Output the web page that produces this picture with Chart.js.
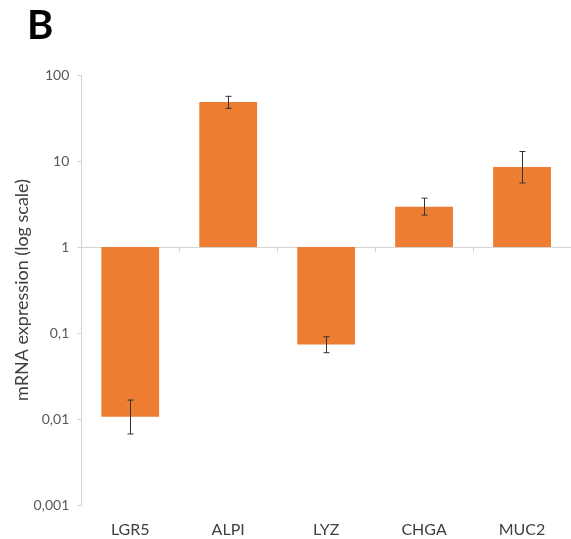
<!DOCTYPE html>
<html>
<head>
<meta charset="utf-8">
<script src="https://cdn.jsdelivr.net/npm/chart.js@4/dist/chart.umd.min.js"></script>
<style>
  html, body { margin: 0; padding: 0; background: #fff; }
  #wrap { position: relative; width: 571px; height: 539px; }
  #panel { position: absolute; left: 27px; top: 0px; font: bold 40px Lato, "Liberation Sans", sans-serif; color: #000; }
</style>
</head>
<body>
<div id="wrap">
  <canvas id="chart" width="571" height="539"></canvas>
  <div id="panel">B</div>
</div>
<script>
const genes = ['LGR5', 'ALPI', 'LYZ', 'CHGA', 'MUC2'];
const expression = [0.0106, 48.5, 0.0736, 2.93, 8.5];
const errorLow = [0.0067, 41, 0.059, 2.35, 5.55];
const errorHigh = [0.0166, 56.5, 0.0905, 3.7, 12.9];
const yTicks = [0.001, 0.01, 0.1, 1, 10, 100];

// error bars plus the little category ticks hanging under the baseline (value 1)
const errorBars = {
    id: 'errorBars',
    afterDatasetsDraw(chart) {
        const ctx = chart.ctx;
        const x = chart.scales.x;
        const y = chart.scales.y;
        const meta = chart.getDatasetMeta(0);
        const base = Math.round(y.getPixelForValue(1));
        ctx.save();
        ctx.strokeStyle = '#d4d4d4';
        ctx.lineWidth = 1;
        for (let i = 1; i < genes.length; i++) {
            const bx = Math.round((x.getPixelForValue(i - 1) + x.getPixelForValue(i)) / 2) + 0.5;
            ctx.beginPath();
            ctx.moveTo(bx, base);
            ctx.lineTo(bx, base + 5);
            ctx.stroke();
        }
        ctx.strokeStyle = '#333';
        meta.data.forEach((bar, i) => {
            const cx = Math.round(bar.x) + 0.5;
            const top = y.getPixelForValue(errorHigh[i]);
            const bottom = y.getPixelForValue(errorLow[i]);
            ctx.beginPath();
            ctx.moveTo(cx, top);
            ctx.lineTo(cx, bottom);
            ctx.moveTo(cx - 3, top);
            ctx.lineTo(cx + 3, top);
            ctx.moveTo(cx - 3, bottom);
            ctx.lineTo(cx + 3, bottom);
            ctx.stroke();
        });
        ctx.restore();
    }
};

new Chart(document.getElementById('chart').getContext('2d'), {
    type: 'bar',
    data: {
        labels: genes,
        datasets: [{
            data: expression.map(v => [1, v]),
            backgroundColor: '#ED7D31',
            borderWidth: 0,
            barPercentage: 0.59,
            categoryPercentage: 1
        }]
    },
    options: {
        responsive: false,
        animation: false,
        layout: { padding: { top: 75, left: 9, right: 0, bottom: 0 } },
        plugins: { legend: { display: false }, tooltip: { enabled: false } },
        scales: {
            x: {
                grid: { display: false, drawTicks: false },
                border: { display: false },
                ticks: { color: '#404040', font: { family: 'Lato', size: 16 }, padding: 15 },
                afterFit: s => { s.height = 34; }
            },
            y: {
                type: 'logarithmic',
                min: 0.001,
                max: 100,
                afterBuildTicks: s => { s.ticks = yTicks.map(v => ({ value: v })); },
                grid: {
                    drawOnChartArea: true,
                    drawTicks: true,
                    tickLength: 4,
                    tickColor: '#d4d4d4',
                    color: ctx => (ctx.tick && ctx.tick.value === 1) ? '#d4d4d4' : 'rgba(0,0,0,0)'
                },
                border: { color: '#d4d4d4' },
                ticks: {
                    color: '#595959',
                    font: { family: 'Lato', size: 14 },
                    padding: 8,
                    callback: v => String(v).replace('.', ',')
                },
                title: {
                    display: true,
                    text: 'mRNA expression (log scale)',
                    color: '#404040',
                    font: { family: 'Lato', size: 18 },
                    padding: { top: 2, bottom: -7 }
                }
            }
        }
    },
    plugins: [errorBars]
});
</script>
</body>
</html>
